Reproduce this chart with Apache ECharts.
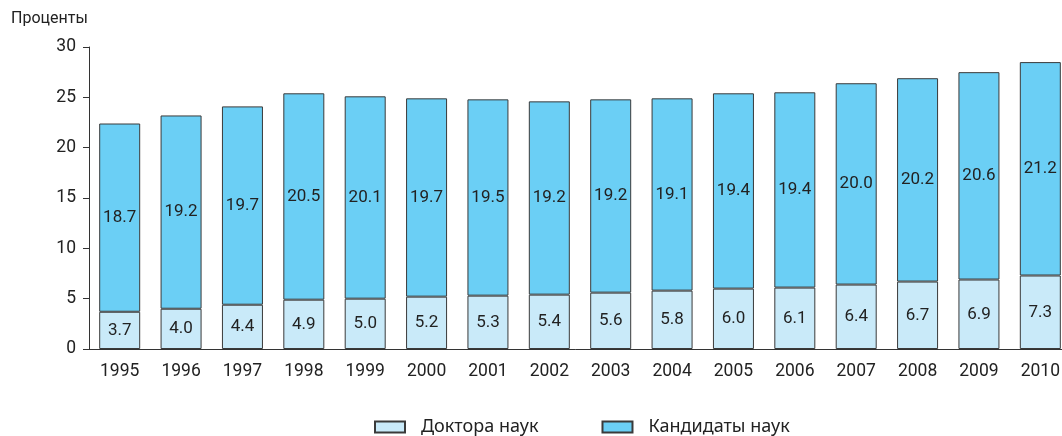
<!DOCTYPE html>
<html>
<head>
<meta charset="utf-8">
<script src="https://cdn.jsdelivr.net/npm/echarts@6/dist/echarts.min.js"></script>
<style>
  html, body { margin: 0; padding: 0; background: #fff; }
  #chart { width: 1062px; height: 436px; }
</style>
</head>
<body>
<div id="chart"></div>
<script>
var years = ['1995', '1996', '1997', '1998', '1999', '2000', '2001', '2002',
  '2003', '2004', '2005', '2006', '2007', '2008', '2009', '2010']
var doctors = [3.7, 4.0, 4.4, 4.9, 5.0, 5.2, 5.3, 5.4, 5.6, 5.8, 6.0, 6.1, 6.4, 6.7, 6.9, 7.3]
var candidates = [18.7, 19.2, 19.7, 20.5, 20.1, 19.7, 19.5, 19.2, 19.2, 19.1, 19.4, 19.4, 20.0, 20.2, 20.6, 21.2]
var yTicks = { min: 0, max: 30, step: 5 }

var chart = echarts.init(document.getElementById('chart'))

var barLabel = {
  show: true,
  position: 'inside',
  color: '#222',
  fontFamily: 'Roboto, sans-serif',
  fontSize: 17,
  formatter: function (p) { return p.value.toFixed(1) }
}

chart.setOption({
  animation: false,
  title: {
    text: 'Проценты',
    left: 6,
    top: 6,
    textStyle: { fontFamily: 'Roboto', fontSize: 16, fontWeight: 'normal', color: '#222' }
  },
  legend: {
    left: 369,
    top: 413,
    icon: 'rect',
    itemWidth: 30,
    itemHeight: 11,
    itemGap: 63,
    textStyle: { fontFamily: 'Noto Sans', fontSize: 18, color: '#222', padding: [0, 0, 0, 11] },
    data: ['Доктора наук', 'Кандидаты наук']
  },
  grid: { left: 89, top: 47, bottom: 87, width: 982, containLabel: false, outerBoundsMode: 'none' },
  xAxis: {
    type: 'category',
    data: years,
    axisLine: { lineStyle: { color: '#333' } },
    axisTick: { length: 5, lineStyle: { color: '#333' } },
    axisLabel: { color: '#222', fontFamily: 'Roboto', fontSize: 17.5, margin: 14 }
  },
  yAxis: {
    type: 'value',
    min: yTicks.min,
    max: yTicks.max,
    interval: yTicks.step,
    splitLine: { show: false },
    axisLine: { show: true, lineStyle: { color: '#333' } },
    axisTick: { show: true, length: 6, lineStyle: { color: '#333' } },
    axisLabel: { color: '#222', fontFamily: 'Roboto', fontSize: 17.5, margin: 13 }
  },
  series: [
    {
      name: 'Доктора наук',
      type: 'bar',
      stack: 'all',
      barWidth: 41,
      data: doctors,
      itemStyle: { color: '#c9eaf9', borderColor: '#3a3a3a', borderWidth: 1 },
      label: barLabel
    },
    {
      name: 'Кандидаты наук',
      type: 'bar',
      stack: 'all',
      barWidth: 41,
      data: candidates,
      itemStyle: { color: '#6bcff5', borderColor: '#3a3a3a', borderWidth: 1 },
      label: barLabel
    }
  ]
})
</script>
</body>
</html>
